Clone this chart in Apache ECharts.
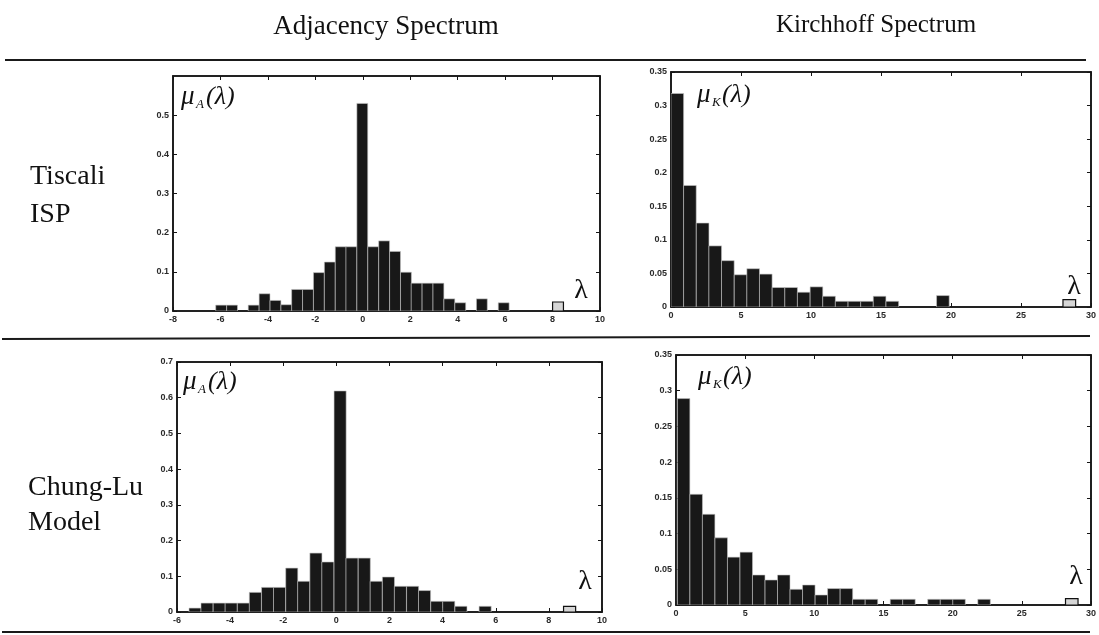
<!DOCTYPE html>
<html><head><meta charset="utf-8">
<script src="https://cdn.jsdelivr.net/npm/echarts@6/dist/echarts.min.js"></script>
<style>html,body{margin:0;padding:0;background:#fff}#c{width:1099px;height:635px}</style>
</head><body><div id="c"></div><script>
// ---- data (bin centres λ and histogram heights μ) ----
const tiscaliAdjLambda = [-5.97,-5.51,-5.06,-4.60,-4.14,-3.68,-3.22,-2.77,-2.31,-1.85,-1.39,-0.93,-0.48,-0.02,0.44,0.90,1.36,1.82,2.27,2.73,3.19,3.65,4.11,4.56,5.02,5.48,5.94,6.40,6.85,7.31,7.77,8.23];
const tiscaliAdjMu     = [0.015,0.015,0,0.015,0.044,0.027,0.016,0.055,0.055,0.098,0.125,0.164,0.164,0.530,0.164,0.179,0.152,0.099,0.071,0.071,0.071,0.031,0.021,0,0.031,0,0.021,0,0,0,0,0.023];
const tiscaliKirLambda = [0.45,1.35,2.26,3.16,4.06,4.97,5.87,6.77,7.68,8.58,9.48,10.39,11.29,12.19,13.10,14.00,14.90,15.81,16.71,17.61,18.52,19.42,20.32,21.22,22.13,23.03,23.93,24.84,25.74,26.64,27.55,28.45];
const tiscaliKirMu     = [0.318,0.181,0.125,0.091,0.069,0.048,0.057,0.049,0.029,0.029,0.022,0.030,0.016,0.0085,0.0085,0.0085,0.016,0.0085,0,0,0,0.017,0,0,0,0,0,0,0,0,0,0.011];
const chungAdjLambda   = [-5.32,-4.87,-4.41,-3.96,-3.50,-3.05,-2.59,-2.14,-1.68,-1.23,-0.77,-0.32,0.14,0.59,1.05,1.50,1.96,2.41,2.87,3.32,3.78,4.23,4.69,5.14,5.60,6.05,6.51,6.96,7.42,7.87,8.33,8.78];
const chungAdjMu       = [0.011,0.025,0.025,0.025,0.025,0.055,0.069,0.069,0.123,0.086,0.165,0.140,0.619,0.151,0.151,0.086,0.098,0.072,0.072,0.060,0.030,0.030,0.016,0,0.016,0,0,0,0,0,0,0.016];
const chungKirLambda   = [0.55,1.46,2.36,3.27,4.17,5.08,5.98,6.89,7.79,8.70,9.60,10.51,11.41,12.32,13.22,14.13,15.03,15.94,16.84,17.75,18.65,19.56,20.46,21.37,22.27,23.18,24.08,24.99,25.89,26.80,27.70,28.61];
const chungKirMu       = [0.289,0.155,0.127,0.094,0.067,0.074,0.042,0.035,0.042,0.022,0.028,0.014,0.023,0.023,0.008,0.008,0,0.008,0.008,0,0.008,0.008,0.008,0,0.008,0,0,0,0,0,0,0.009];
const binWidths = [0.458, 0.903, 0.455, 0.905];
const columnTitles = ['Adjacency Spectrum', 'Kirchhoff Spectrum'];
const rowTitles = [['Tiscali', 'ISP'], ['Chung-Lu', 'Model']];
const muSubs = ['A', 'K', 'A', 'K'];

// ---- layout ----
const panels = [
  {lambda: tiscaliAdjLambda, mu: tiscaliAdjMu, w: binWidths[0], grid:{left:173, top:76, width:427, height:235}, xMin:-8, xMax:10, xStep:2, yMax:0.6, yStep:0.1, hideMaxY:true, muPos:[181,97], lamPos:[581,291]},
  {lambda: tiscaliKirLambda, mu: tiscaliKirMu, w: binWidths[1], grid:{left:671, top:72, width:422, height:235}, xMin:0, xMax:30, xStep:5, yMax:0.35, yStep:0.05, hideMaxY:false, muPos:[697,95], lamPos:[1074,287]},
  {lambda: chungAdjLambda, mu: chungAdjMu, w: binWidths[2], grid:{left:177, top:362, width:425, height:250}, xMin:-6, xMax:10, xStep:2, yMax:0.7, yStep:0.1, hideMaxY:false, muPos:[183,382], lamPos:[585,582]},
  {lambda: chungKirLambda, mu: chungKirMu, w: binWidths[3], grid:{left:676, top:355, width:418, height:250}, xMin:0, xMax:30, xStep:5, yMax:0.35, yStep:0.05, hideMaxY:false, muPos:[698,377], lamPos:[1076,577]}
];

const tickFont = {fontSize: 9, fontWeight: 'bold', color: '#2a2a2a', fontFamily: 'Liberation Sans, Arial, sans-serif'};
const lineCol = '#151515';
const grids = [], xAxes = [], yAxes = [], series = [];
panels.forEach((p, i) => {
  grids.push(Object.assign({show: true, borderColor: lineCol, borderWidth: 1.5, backgroundColor: '#fff'}, p.grid));
  const baseX = {gridIndex: i, type: 'value', min: p.xMin, max: p.xMax, interval: p.xStep, splitLine: {show: false},
    axisLine: {show: true, onZero: false, lineStyle: {color: lineCol, width: 1.6}},
    axisTick: {show: true, inside: true, length: 4, lineStyle: {color: lineCol, width: 1}}};
  xAxes.push(Object.assign({}, baseX, {position: 'bottom', axisLabel: Object.assign({margin: 4}, tickFont)}));
  xAxes.push(Object.assign({}, baseX, {position: 'top', axisLabel: {show: false}}));
  const baseY = {gridIndex: i, type: 'value', min: 0, max: p.yMax, interval: p.yStep, splitLine: {show: false},
    axisLine: {show: true, onZero: false, lineStyle: {color: lineCol, width: 1.6}},
    axisTick: {show: true, inside: true, length: 4, lineStyle: {color: lineCol, width: 1}}};
  yAxes.push(Object.assign({}, baseY, {position: 'left', axisLabel: Object.assign({margin: 4, showMaxLabel: !p.hideMaxY}, tickFont)}));
  yAxes.push(Object.assign({}, baseY, {position: 'right', axisLabel: {show: false}}));
  const last = p.lambda.length - 1;
  const w = p.w;
  series.push({
    type: 'custom', xAxisIndex: 2 * i, yAxisIndex: 2 * i, clip: true,
    data: p.lambda.map((l, k) => [l, p.mu[k]]),
    renderItem: function (params, api) {
      const x = api.value(0), y = api.value(1);
      if (!(y > 0)) return {type: 'group', children: []};
      const a = api.coord([x - w / 2, y]);
      const b = api.coord([x + w / 2, 0]);
      const out = params.dataIndex === last;
      return {type: 'rect', shape: {x: a[0], y: a[1], width: b[0] - a[0], height: b[1] - a[1]},
        style: {fill: out ? '#d6d6d6' : '#181818', stroke: out ? '#111' : '#c4c4c4', lineWidth: out ? 1.2 : 0.6}};
    }
  });
});

const serif = 'Liberation Serif, "Times New Roman", serif';
function txt(x, y, text, font, align) {
  return {type: 'text', x: x, y: y, z: 100, style: {text: text, font: font, fill: '#111', align: align || 'left', textAlign: align || 'left', verticalAlign: 'middle', textVerticalAlign: 'middle'}};
}
const graphics = [];
graphics.push(txt(386, 27, columnTitles[0], '27px ' + serif, 'center'));
graphics.push(txt(876, 25, columnTitles[1], '25px ' + serif, 'center'));
graphics.push(txt(30, 177, rowTitles[0][0], '28px ' + serif));
graphics.push(txt(30, 215, rowTitles[0][1], '28px ' + serif));
graphics.push(txt(28, 488, rowTitles[1][0], '28px ' + serif));
graphics.push(txt(28, 523, rowTitles[1][1], '28px ' + serif));
[[5, 60, 1086, 60], [2, 339, 1090, 336], [2, 632, 1090, 632]].forEach(l => {
  graphics.push({type: 'line', z: 100, shape: {x1: l[0], y1: l[1], x2: l[2], y2: l[3]}, style: {stroke: '#1a1a1a', lineWidth: 2}});
});
panels.forEach((p, i) => {
  const [mx, my] = p.muPos;
  graphics.push(txt(mx, my, 'μ', 'italic 27px ' + serif));
  graphics.push(txt(mx + 15, my + 8, muSubs[i], 'italic 13px ' + serif));
  graphics.push(txt(mx + 25, my, '(λ)', 'italic 26px ' + serif));
  graphics.push(txt(p.lamPos[0], p.lamPos[1], 'λ', '28px ' + serif, 'center'));
});

const chart = echarts.init(document.getElementById('c'), null, {renderer: 'canvas'});
chart.setOption({
  backgroundColor: '#fff', animation: false,
  grid: grids, xAxis: xAxes, yAxis: yAxes, series: series, graphic: graphics
});
</script></body></html>
